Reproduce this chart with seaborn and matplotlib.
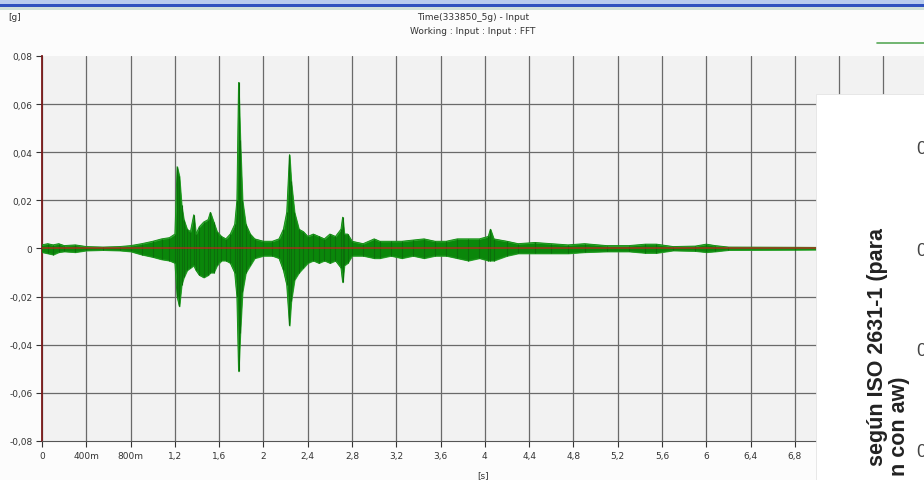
import numpy as np
import pandas as pd
import matplotlib.pyplot as plt
import seaborn as sns
from matplotlib.patches import Rectangle
from matplotlib.lines import Line2D

# Envelope of the acceleration signal: time [s], upper and lower [g]
time_s = [0.00, 0.05, 0.10, 0.15, 0.20, 0.30, 0.40, 0.55, 0.70, 0.80, 0.90, 1.00,
          1.08, 1.15, 1.20, 1.22, 1.24, 1.26, 1.28, 1.31, 1.34, 1.37, 1.39, 1.42,
          1.46, 1.50, 1.52, 1.55, 1.58, 1.62, 1.66, 1.70, 1.74, 1.76, 1.775, 1.79,
          1.81, 1.84, 1.88, 1.92, 2.00, 2.08, 2.14, 2.18, 2.21, 2.235, 2.25, 2.28,
          2.32, 2.36, 2.40, 2.45, 2.50, 2.55, 2.60, 2.65, 2.70, 2.715, 2.73, 2.76,
          2.80, 2.90, 3.00, 3.05, 3.15, 3.25, 3.35, 3.45, 3.55, 3.65, 3.75, 3.85,
          3.95, 4.03, 4.05, 4.08, 4.20, 4.30, 4.45, 4.60, 4.75, 4.90, 5.10, 5.30,
          5.45, 5.55, 5.70, 5.90, 6.00, 6.08, 6.20, 6.80, 7.20]
upper_g = [0.0015, 0.002, 0.0015, 0.002, 0.0012, 0.0015, 0.0008, 0.0006, 0.0008, 0.0012, 0.002, 0.003,
           0.004, 0.0045, 0.006, 0.034, 0.030, 0.018, 0.012, 0.008, 0.007, 0.014, 0.006, 0.009,
           0.011, 0.012, 0.015, 0.011, 0.007, 0.005, 0.004, 0.006, 0.010, 0.020, 0.069, 0.045,
           0.020, 0.010, 0.006, 0.004, 0.003, 0.003, 0.004, 0.008, 0.015, 0.039, 0.028, 0.015,
           0.008, 0.007, 0.005, 0.006, 0.005, 0.004, 0.006, 0.005, 0.008, 0.013, 0.006, 0.006,
           0.003, 0.002, 0.004, 0.003, 0.003, 0.003, 0.0035, 0.004, 0.003, 0.003, 0.004, 0.004,
           0.004, 0.005, 0.008, 0.004, 0.003, 0.002, 0.0025, 0.002, 0.0015, 0.002, 0.0012, 0.0012,
           0.0018, 0.0018, 0.0008, 0.001, 0.0018, 0.0012, 0.0006, 0.0005, 0.0004]
lower_g = [-0.0015, -0.002, -0.0025, -0.0015, -0.0012, -0.0015, -0.0008, -0.0006, -0.0008, -0.0012, -0.0025, -0.0035,
           -0.0045, -0.005, -0.006, -0.020, -0.024, -0.015, -0.012, -0.009, -0.008, -0.007, -0.009, -0.011,
           -0.012, -0.011, -0.010, -0.010, -0.007, -0.005, -0.005, -0.006, -0.010, -0.020, -0.051, -0.035,
           -0.018, -0.010, -0.007, -0.004, -0.003, -0.003, -0.004, -0.009, -0.015, -0.032, -0.022, -0.013,
           -0.010, -0.008, -0.006, -0.005, -0.006, -0.005, -0.006, -0.005, -0.008, -0.014, -0.007, -0.006,
           -0.003, -0.003, -0.004, -0.004, -0.003, -0.004, -0.003, -0.004, -0.003, -0.003, -0.004, -0.005,
           -0.004, -0.005, -0.005, -0.005, -0.003, -0.002, -0.002, -0.002, -0.002, -0.0015, -0.0012, -0.0012,
           -0.0018, -0.0018, -0.0008, -0.001, -0.0015, -0.0012, -0.0006, -0.0005, -0.0004]

x_ticks = [0, 0.4, 0.8, 1.2, 1.6, 2, 2.4, 2.8, 3.2, 3.6, 4, 4.4, 4.8, 5.2, 5.6, 6, 6.4, 6.8, 7.2, 7.6]
x_labels = ["0", "400m", "800m", "1,2", "1,6", "2", "2,4", "2,8", "3,2", "3,6", "4",
            "4,4", "4,8", "5,2", "5,6", "6", "6,4", "6,8", "7,2", "7,6"]
y_ticks = [-0.08, -0.06, -0.04, -0.02, 0, 0.02, 0.04, 0.06, 0.08]
y_labels = ["-0,08", "-0,06", "-0,04", "-0,02", "0", "0,02", "0,04", "0,06", "0,08"]

sns.set_style("ticks")
plt.rcParams["font.family"] = ["Liberation Sans Narrow", "DejaVu Sans"]

df = pd.DataFrame({"t": time_s, "upper": upper_g, "lower": lower_g})

fig = plt.figure(figsize=(9.24, 4.81), dpi=100)
fig.patch.set_facecolor("#fcfcfc")
ax = fig.add_axes([0.0455, 0.0811, 0.9585, 0.8004])
ax.set_facecolor("#f2f2f2")

# signal envelope
ax.fill_between(df["t"], df["lower"], df["upper"], color="#0a870a", linewidth=0.8,
                edgecolor="#2fa82f", zorder=3)
sns.lineplot(data=df, x="t", y="upper", ax=ax, color="#178f17", linewidth=0.7, zorder=3)
sns.lineplot(data=df, x="t", y="lower", ax=ax, color="#178f17", linewidth=0.7, zorder=3)
ax.vlines(df["t"], df["lower"], df["upper"], color="#0b6f0b", linewidth=0.8, zorder=3)
ax.axhline(0, color="#c81e1e", linewidth=1.1, alpha=0.8, zorder=4)

ax.set_xlim(0, 8.0)
ax.set_ylim(-0.08, 0.08)
ax.set_xticks(x_ticks)
ax.set_xticklabels(x_labels)
ax.set_yticks(y_ticks)
ax.set_yticklabels(y_labels)
ax.tick_params(labelsize=6.5, colors="#333333", length=4, width=0.8, pad=3)
ax.grid(True, color="#6a6a6a", linewidth=0.9, zorder=1)
ax.get_ygridlines()[-1].set_visible(False)
ax.get_ygridlines()[0].set_visible(False)
ax.set_axisbelow(True)
ax.set_xlabel("[s]", fontsize=6.5, color="#333333")
ax.set_ylabel("")
for side in ("top", "right"):
    ax.spines[side].set_visible(False)
ax.spines["left"].set_color("#7a1a1a")
ax.spines["left"].set_linewidth(1.3)
ax.spines["bottom"].set_color("#555555")
ax.xaxis.set_label_coords(0.498, -0.075)

# window header
fig.patches.append(Rectangle((0, 1 - 4.5 / 481), 1, 4.5 / 481, transform=fig.transFigure,
                             facecolor="#b8ccee", edgecolor="none", zorder=10))
fig.patches.append(Rectangle((0, 1 - 8 / 481), 1, 3.5 / 481, transform=fig.transFigure,
                             facecolor="#2f52bf", edgecolor="none", zorder=10))
fig.patches.append(Rectangle((0, 1 - 11 / 481), 1, 3 / 481, transform=fig.transFigure,
                             facecolor="#cfe0d8", edgecolor="none", zorder=10))
fig.text(0.512, 1 - 18 / 481, "Time(333850_5g) - Input", ha="center", va="center",
         fontsize=6.5, color="#333333")
fig.text(0.512, 1 - 32 / 481, "Working : Input : Input : FFT", ha="center", va="center",
         fontsize=6.5, color="#333333")
fig.text(8 / 924, 1 - 17 / 481, "[g]", ha="left", va="center", fontsize=6.5, color="#333333")
fig.lines.append(Line2D([877 / 924, 1], [1 - 44 / 481] * 2, transform=fig.transFigure,
                        color="#58a858", linewidth=1.2))

# overlapping panel from another chart
fig.patches.append(Rectangle((816 / 924, 0), 108 / 924, 386 / 481, transform=fig.transFigure,
                             facecolor="white", edgecolor="#e4e4e4", linewidth=0.6, zorder=20))
fig.text(878 / 924, 1 - 228 / 481, "según ISO 2631-1 (para", rotation=90, rotation_mode="anchor",
         ha="right", va="center", fontsize=15.5, fontweight="bold", family="Liberation Sans",
         color="#222222", zorder=21)
fig.text(899 / 924, 1 - 376 / 481, "n con aw)", rotation=90, rotation_mode="anchor",
         ha="right", va="center", fontsize=15.5, fontweight="bold", family="Liberation Sans",
         color="#222222", zorder=21)
for yy in (150, 252, 352, 453):
    fig.text(916 / 924, 1 - yy / 481, "0", ha="left", va="center", fontsize=13,
             family="Liberation Sans", color="#444444", zorder=21)

fig.savefig("out.png", dpi=100, facecolor=fig.get_facecolor())
